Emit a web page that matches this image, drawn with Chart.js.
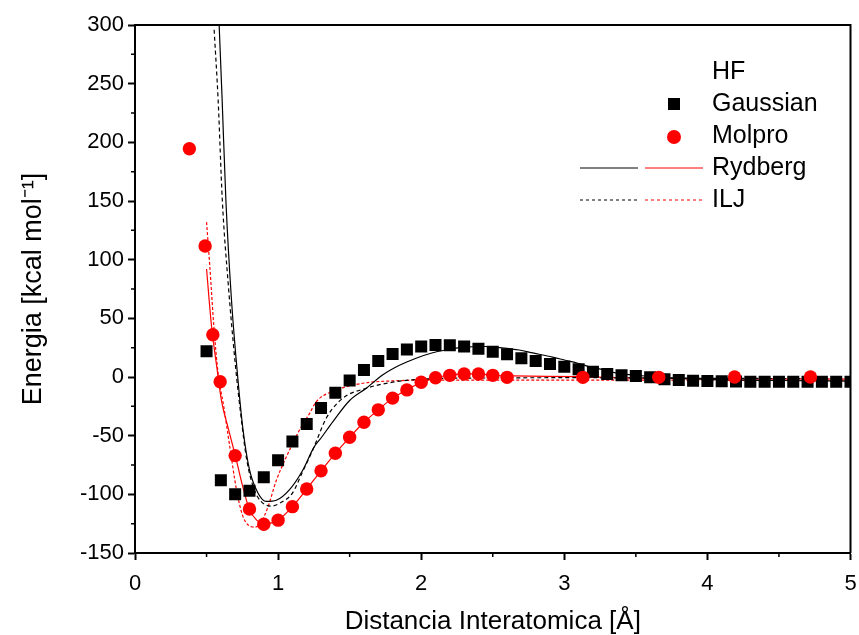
<!DOCTYPE html>
<html>
<head>
<meta charset="utf-8">
<script src="https://cdn.jsdelivr.net/npm/chart.js@4.4.1/dist/chart.umd.min.js"></script>
<style>
  body { margin: 0; background: #fff; }
  #wrap { width: 859px; height: 635px; }
</style>
</head>
<body>
<div id="wrap"><canvas id="hfChart"></canvas></div>
<script>
// Gaussian HF points (distance in Å, energy in kcal/mol)
const gaussX = [0.5, 0.6, 0.7, 0.8, 0.9, 1.0, 1.1, 1.2, 1.3, 1.4, 1.5, 1.6, 1.7, 1.8, 1.9, 2.0,
  2.1, 2.2, 2.3, 2.4, 2.5, 2.6, 2.7, 2.8, 2.9, 3.0, 3.1, 3.2, 3.3, 3.4, 3.5, 3.6, 3.7, 3.8, 3.9,
  4.0, 4.1, 4.2, 4.3, 4.4, 4.5, 4.6, 4.7, 4.8, 4.9, 5.0];
const gaussE = [22, -88, -100, -97, -85.5, -71, -55, -40, -26.5, -13.5, -3, 6, 13.6, 19.6, 23.5, 26,
  27.3, 27, 26, 24, 21.6, 19.3, 16, 13.6, 11, 8.8, 6.6, 4.5, 2.6, 1.4, 0.9, -0.3, -2, -2.6, -3.1,
  -3.4, -3.7, -3.9, -4, -4.1, -4.1, -4.1, -4.1, -4.1, -4.1, -4.1];

// Molpro HF points
const molproX = [0.38, 0.49, 0.544, 0.595, 0.7, 0.8, 0.9, 1.0, 1.1, 1.2, 1.3, 1.4, 1.5, 1.6, 1.7,
  1.8, 1.9, 2.0, 2.1, 2.2, 2.3, 2.4, 2.5, 2.6, 3.13, 3.66, 4.19, 4.72];
const molproE = [194.5, 111.6, 36, -4, -67, -112.5, -125.5, -122, -110.5, -95.5, -80, -65, -51.4,
  -38.6, -28, -18, -11, -4.5, -0.6, 1.4, 2.6, 2.6, 1.4, -0.3, -0.3, -0.3, 0, 0];

// Rydberg fit to Gaussian (black solid)
const rydGX = [0.588, 0.609, 0.635, 0.674, 0.72, 0.755, 0.80, 0.86, 0.918, 0.988, 1.08, 1.174, 1.25,
  1.3, 1.383, 1.5, 1.616, 1.73, 1.848, 1.964, 2.08, 2.17, 2.3, 2.45, 2.55, 2.685, 2.78, 2.917, 3.0,
  3.1, 3.2, 3.266, 3.36, 3.5, 3.7, 4.0, 4.5, 5.0];
const rydGE = [300, 236, 151, 66, -3, -45, -79, -99, -106, -105, -96, -79, -60,
  -52, -38, -20, -9.6, 1.7, 10, 16, 20.7, 23, 25.5, 26, 25, 23, 20.5, 17, 14.5,
  11.5, 8, 6.5, 3.5, 1.5, -0.5, -2, -3, -3.5];

// ILJ fit to Gaussian (black dashed)
const iljGX = [0.553, 0.581, 0.61, 0.651, 0.70, 0.74, 0.78, 0.83, 0.88, 0.953, 1.02, 1.10, 1.17,
  1.243, 1.337, 1.453, 1.616, 1.755, 1.918, 2.08, 2.2, 2.5, 3.0, 3.5, 4.0, 4.5, 5.0];
const iljGE = [296, 236, 151, 80, 12, -33, -70, -95, -106, -110, -107, -99, -81,
  -62, -35, -18, -9.6, -5.4, -2.6, -1.4, -1.1, -0.8, -0.6, -0.8, -1.1, -1.3, -1.4];

// Rydberg fit to Molpro (red solid)
const rydMX = [0.5, 0.535, 0.57, 0.604, 0.65, 0.7, 0.75, 0.8, 0.85, 0.9, 1.0, 1.1, 1.2, 1.3, 1.4,
  1.5, 1.6, 1.7, 1.8, 1.9, 2.0, 2.1, 2.2, 2.3, 2.4, 2.5, 2.64, 3.1, 3.5, 4.0, 5.0];
const rydME = [92, 43, 10, -20, -43, -66.5, -92, -113, -122, -125, -122, -110.5, -95.5, -80, -65,
  -51.4, -38.6, -28, -18, -11, -4.5, -0.6, 1.4, 2.6, 2.6, 1.4, 0.9, 0.3, -1, -1.5, -1.7];

// ILJ fit to Molpro (red dashed)
const iljMX = [0.5, 0.523, 0.551, 0.581, 0.62, 0.662, 0.709, 0.755, 0.814, 0.84, 0.88, 0.93, 0.988,
  1.058, 1.15, 1.22, 1.267, 1.383, 1.5, 1.616, 1.848, 2.08, 3.0, 4.0, 5.0];
const iljME = [132, 94, 43, 3, -25, -59, -96, -119, -127.6, -128, -124, -110.5, -88,
  -68, -45, -31, -21, -12, -7.7, -4.9, -3.1, -2.6, -2.6, -2.6, -2.6];

const xTicks = [0, 1, 2, 3, 4, 5];
const yTicks = [-150, -100, -50, 0, 50, 100, 150, 200, 250, 300];

const FONT = "'Liberation Sans', Arial, sans-serif";

function pts(xs, ys) {
  return xs.map((x, i) => ({ x: x, y: ys[i] }));
}

// box, minor ticks and the hand-laid legend
const decorPlugin = {
  id: 'decor',
  afterDraw(chart) {
    const ctx = chart.ctx;
    const a = chart.chartArea;
    const xs = chart.scales.x, ys = chart.scales.y;
    ctx.save();
    ctx.strokeStyle = '#000';
    ctx.lineWidth = 2;
    ctx.beginPath();
    ctx.moveTo(a.left, a.top); ctx.lineTo(a.right, a.top); ctx.lineTo(a.right, a.bottom);
    ctx.stroke();
    // minor ticks
    ctx.lineWidth = 1.5;
    ctx.beginPath();
    for (let v = -125; v < 300; v += 50) {
      const py = ys.getPixelForValue(v);
      ctx.moveTo(a.left - 4, py); ctx.lineTo(a.left, py);
    }
    for (let v = 0.5; v < 5; v += 1) {
      const px = xs.getPixelForValue(v);
      ctx.moveTo(px, a.bottom); ctx.lineTo(px, a.bottom + 4);
    }
    ctx.stroke();

    // legend
    ctx.font = '25px ' + FONT;
    ctx.fillStyle = '#000';
    ctx.textBaseline = 'middle';
    ctx.textAlign = 'left';
    const tx = 712;
    ctx.fillText('HF', tx, 72);
    ctx.fillText('Gaussian', tx, 104);
    ctx.fillText('Molpro', tx, 136);
    ctx.fillText('Rydberg', tx, 168);
    ctx.fillText('ILJ', tx, 200);
    ctx.fillRect(668, 98, 12, 12);
    ctx.fillStyle = '#ff0000';
    ctx.beginPath();
    ctx.arc(674, 137, 7, 0, Math.PI * 2);
    ctx.fill();
    ctx.lineWidth = 1;
    ctx.strokeStyle = '#000';
    ctx.beginPath(); ctx.moveTo(580, 168); ctx.lineTo(638, 168); ctx.stroke();
    ctx.setLineDash([3, 3]);
    ctx.beginPath(); ctx.moveTo(580, 200); ctx.lineTo(638, 200); ctx.stroke();
    ctx.strokeStyle = '#ff0000';
    ctx.beginPath(); ctx.moveTo(645, 200); ctx.lineTo(703, 200); ctx.stroke();
    ctx.setLineDash([]);
    ctx.beginPath(); ctx.moveTo(645, 168); ctx.lineTo(703, 168); ctx.stroke();
    ctx.restore();
  }
};

function curve(label, xs, ys, color, dash) {
  return {
    label: label,
    data: pts(xs, ys),
    showLine: true,
    borderColor: color,
    borderWidth: 1.2,
    borderDash: dash,
    pointRadius: 0,
    cubicInterpolationMode: 'monotone',
    order: 2
  };
}

const ctx = document.getElementById('hfChart').getContext('2d');
const hfChart = new Chart(ctx, {
  type: 'scatter',
  data: {
    datasets: [
      curve('Rydberg Gaussian', rydGX, rydGE, '#000000', []),
      curve('ILJ Gaussian', iljGX, iljGE, '#000000', [4, 3]),
      curve('Rydberg Molpro', rydMX, rydME, '#ff0000', []),
      curve('ILJ Molpro', iljMX, iljME, '#ff0000', [3, 2]),
      {
        label: 'Gaussian',
        data: pts(gaussX, gaussE),
        pointStyle: 'rect',
        pointRadius: 8.5,
        pointBorderWidth: 0,
        backgroundColor: '#000000',
        borderColor: '#000000',
        order: 1
      },
      {
        label: 'Molpro',
        data: pts(molproX, molproE),
        pointStyle: 'circle',
        pointRadius: 6.7,
        pointBorderWidth: 0,
        backgroundColor: '#ff0000',
        borderColor: '#ff0000',
        order: 0
      }
    ]
  },
  options: {
    responsive: true,
    maintainAspectRatio: false,
    animation: false,
    layout: { padding: { top: 25, right: 7, left: 0, bottom: 0 } },
    plugins: {
      legend: { display: false },
      tooltip: { enabled: false }
    },
    scales: {
      x: {
        type: 'linear',
        min: 0,
        max: 5,
        afterFit(scale) {
          scale.height = 82;
          scale.paddingLeft = 0;
          scale.paddingRight = 0;
        },
        afterBuildTicks(scale) { scale.ticks = xTicks.map(v => ({ value: v })); },
        ticks: { color: '#000', font: { family: FONT, size: 22 }, padding: 11, maxRotation: 0 },
        grid: { drawOnChartArea: false, tickLength: 7, tickColor: '#000', tickWidth: 2 },
        border: { color: '#000', width: 2 },
        title: {
          display: true,
          text: 'Distancia Interatomica [Å]',
          color: '#000',
          font: { family: FONT, size: 26, lineHeight: 1.0 },
          padding: { top: 0, bottom: 0 }
        }
      },
      y: {
        type: 'linear',
        min: -150,
        max: 300,
        afterFit(scale) {
          scale.width = 135;
          scale.paddingTop = 0;
          scale.paddingBottom = 0;
        },
        afterBuildTicks(scale) { scale.ticks = yTicks.map(v => ({ value: v })); },
        ticks: { color: '#000', font: { family: FONT, size: 22 }, padding: 4 },
        grid: { drawOnChartArea: false, tickLength: 7, tickColor: '#000', tickWidth: 2 },
        border: { color: '#000', width: 2 },
        title: {
          display: true,
          text: 'Energia [kcal mol⁻¹]',
          color: '#000',
          font: { family: FONT, size: 27 },
          padding: { top: 17, bottom: 0 }
        }
      }
    }
  },
  plugins: [decorPlugin]
});
</script>
</body>
</html>
